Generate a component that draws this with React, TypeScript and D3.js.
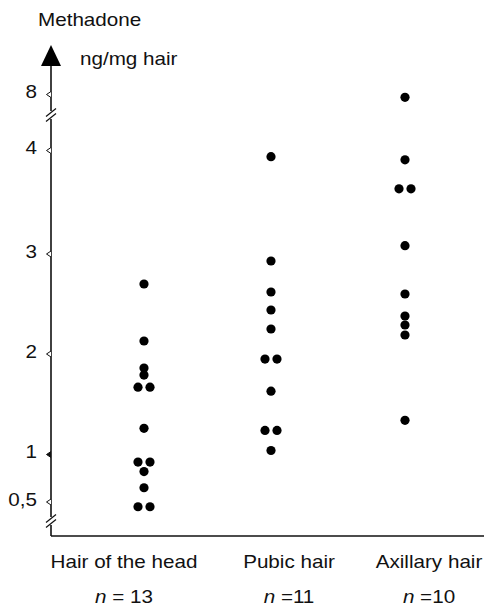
import React, { useEffect, useRef } from 'react';
import * as d3 from 'd3';

// Methadone concentrations (ng/mg hair)
const categories = ['Hair of the head', 'Pubic hair', 'Axillary hair'];
const nLabels = ['= 13', '=11', '=10'];
const headValues = [2.7, 2.13, 1.86, 1.79, 1.67, 1.67, 1.26, 0.92, 0.92, 0.82, 0.65, 0.45, 0.45];
const pubicValues = [3.94, 2.93, 2.62, 2.44, 2.25, 1.95, 1.95, 1.63, 1.24, 1.24, 1.04];
const axillaryValues = [7.8, 3.91, 3.63, 3.63, 3.08, 2.6, 2.38, 2.29, 2.19, 1.34];
const yTickValues = [0.5, 1, 2, 3, 4, 8];
const yTickLabels = ['0,5', '1', '2', '3', '4', '8'];

const W = 486;
const H = 607;
const FONT = "'Liberation Sans', Arial, Helvetica, sans-serif";
const STRETCH = 1.18; // the scanned lettering is a bit wide

const App = () => {
  const svgRef = useRef<SVGSVGElement>(null);

  useEffect(() => {
    const svg = d3.select(svgRef.current);
    svg.selectAll('*').remove();

    const axisX = 51;
    const axisBottom = 536;
    const axisRight = 484;
    const arrowTip = 45;
    const arrowBase = 66;

    // broken axis: piecewise linear scale, compressed above 4
    const y = d3.scaleLinear()
      .domain([0.5, 1, 2, 3, 4, 8])
      .range([502, 454.5, 354, 254, 150.5, 94.5]);

    const xDots = d3.scaleOrdinal<string, number>().domain(categories).range([144, 271, 405]);
    const xLabels = d3.scaleOrdinal<string, number>().domain(categories).range([124, 289, 429]);

    const series = [headValues, pubicValues, axillaryValues];

    const text = (x: number, yy: number, s: string, anchor = 'start') =>
      svg.append('text')
        .attr('transform', `translate(${x},${yy}) scale(${STRETCH},1)`)
        .attr('text-anchor', anchor)
        .style('font-family', FONT)
        .style('font-size', '17.5px')
        .style('fill', '#111')
        .text(s);

    // axes
    svg.append('line')
      .attr('x1', axisX).attr('x2', axisX)
      .attr('y1', arrowBase - 2).attr('y2', axisBottom)
      .attr('stroke', '#111').attr('stroke-width', 1.6);
    svg.append('line')
      .attr('x1', axisX).attr('x2', axisRight)
      .attr('y1', axisBottom).attr('y2', axisBottom)
      .attr('stroke', '#111').attr('stroke-width', 1.3);
    svg.append('path')
      .attr('d', `M${axisX},${arrowTip} L${axisX + 10},${arrowBase} L${axisX - 10},${arrowBase} Z`)
      .attr('fill', '#000');

    // axis breaks
    [115, 521].forEach(by => {
      svg.append('rect')
        .attr('x', axisX - 2).attr('y', by - 4).attr('width', 4).attr('height', 8)
        .attr('fill', '#fff');
      [-2.5, 2.5].forEach(off => {
        svg.append('line')
          .attr('x1', axisX - 5).attr('y1', by + off + 4)
          .attr('x2', axisX + 5).attr('y2', by + off - 4)
          .attr('stroke', '#111').attr('stroke-width', 1.3);
      });
    });

    // ticks (small open arrowheads on the left of the axis)
    yTickValues.forEach((v, i) => {
      const ty = y(v);
      svg.append('path')
        .attr('d', `M${axisX},${ty - 3} L${axisX - 4.5},${ty} L${axisX},${ty + 3}`)
        .attr('fill', v === 1 ? '#111' : '#fff')
        .attr('stroke', '#111')
        .attr('stroke-width', 1);
      text(37, ty + 3.5, yTickLabels[i], 'end');
    });

    // titles
    text(38, 26, 'Methadone');
    text(80, 65, 'ng/mg hair');

    // dots: tied values are set side by side
    const gap = 12;
    series.forEach((vals, ci) => {
      const cx = xDots(categories[ci]);
      const counts = d3.rollup(vals, v => v.length, d => d);
      const seen = new Map<number, number>();
      vals.forEach(v => {
        const n = counts.get(v) || 1;
        const k = seen.get(v) || 0;
        seen.set(v, k + 1);
        const dx = (k - (n - 1) / 2) * gap;
        svg.append('circle')
          .attr('cx', cx + dx)
          .attr('cy', y(v))
          .attr('r', 4.6)
          .attr('fill', '#000');
      });
    });

    // category labels
    categories.forEach((c, i) => {
      text(xLabels(c), 568, c, 'middle');
      const t = svg.append('text')
        .attr('transform', `translate(${xLabels(c)},603) scale(${STRETCH},1)`)
        .attr('text-anchor', 'middle')
        .style('font-family', FONT)
        .style('font-size', '17.5px')
        .style('fill', '#111');
      t.append('tspan').style('font-style', 'italic').text('n');
      t.append('tspan').text(' ' + nLabels[i]);
    });
  }, []);

  return (
    <svg
      ref={svgRef}
      width={W}
      height={H}
      style={{ position: 'absolute', left: 0, top: 0, background: '#fff' }}
    />
  );
};

export default App;
